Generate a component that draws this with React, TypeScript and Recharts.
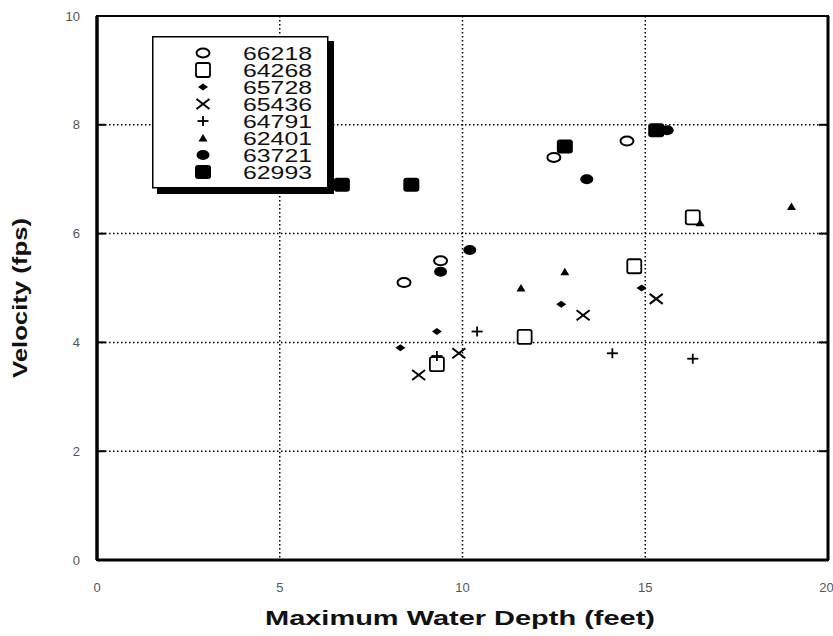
import React from 'react';
import {
  ScatterChart,
  Scatter,
  XAxis,
  YAxis,
  CartesianGrid,
  ReferenceArea,
  ReferenceLine,
  Legend,
} from 'recharts';

// axis ticks
const xTicks = [0, 5, 10, 15, 20];
const yTicks = [0, 2, 4, 6, 8, 10];
const gridY = [2, 4, 6, 8];

// station ids, in legend order
const stations = ['66218', '64268', '65728', '65436', '64791', '62401', '63721', '62993'];

// depth (ft) vs velocity (fps) per station
const s66218 = [{ x: 8.4, y: 5.1 }, { x: 9.4, y: 5.5 }, { x: 12.5, y: 7.4 }, { x: 14.5, y: 7.7 }];
const s64268 = [{ x: 9.3, y: 3.6 }, { x: 11.7, y: 4.1 }, { x: 14.7, y: 5.4 }, { x: 16.3, y: 6.3 }];
const s65728 = [{ x: 8.3, y: 3.9 }, { x: 9.3, y: 4.2 }, { x: 12.7, y: 4.7 }, { x: 14.9, y: 5.0 }];
const s65436 = [{ x: 8.8, y: 3.4 }, { x: 9.9, y: 3.8 }, { x: 13.3, y: 4.5 }, { x: 15.3, y: 4.8 }];
const s64791 = [{ x: 9.3, y: 3.75 }, { x: 10.4, y: 4.2 }, { x: 14.1, y: 3.8 }, { x: 16.3, y: 3.7 }];
const s62401 = [{ x: 11.6, y: 5.0 }, { x: 12.8, y: 5.3 }, { x: 16.5, y: 6.2 }, { x: 19.0, y: 6.5 }];
const s63721 = [{ x: 9.4, y: 5.3 }, { x: 10.2, y: 5.7 }, { x: 13.4, y: 7.0 }, { x: 15.6, y: 7.9 }];
const s62993 = [{ x: 6.7, y: 6.9 }, { x: 8.6, y: 6.9 }, { x: 12.8, y: 7.6 }, { x: 15.3, y: 7.9 }];

const FONT = '"Liberation Sans", Arial, Helvetica, sans-serif';

// marker glyphs, drawn around (cx, cy)
const drawMarker = (kind: number, cx: number, cy: number) => {
  switch (kind) {
    case 0: // open circle
      return <ellipse cx={cx} cy={cy} rx={6.5} ry={4.5} fill="#fff" stroke="#000" strokeWidth={2} />;
    case 1: // open square
      return <rect x={cx - 7} y={cy - 7} width={14} height={14} rx={2} fill="#fff" stroke="#000" strokeWidth={1.8} />;
    case 2: // small diamond
      return <polygon points={`${cx - 5},${cy} ${cx},${cy - 3.5} ${cx + 5},${cy} ${cx},${cy + 3.5}`} fill="#000" />;
    case 3: // x
      return (
        <g stroke="#000" strokeWidth={2}>
          <line x1={cx - 6.5} y1={cy - 5} x2={cx + 6.5} y2={cy + 5} />
          <line x1={cx - 6.5} y1={cy + 5} x2={cx + 6.5} y2={cy - 5} />
        </g>
      );
    case 4: // plus
      return (
        <g stroke="#000" strokeWidth={1.8}>
          <line x1={cx - 5.5} y1={cy} x2={cx + 5.5} y2={cy} />
          <line x1={cx} y1={cy - 5} x2={cx} y2={cy + 5} />
        </g>
      );
    case 5: // triangle
      return <polygon points={`${cx - 4.5},${cy + 3.5} ${cx},${cy - 4} ${cx + 4.5},${cy + 3.5}`} fill="#000" />;
    case 6: // filled circle
      return <ellipse cx={cx} cy={cy} rx={6.5} ry={5} fill="#000" />;
    default: // filled square
      return <rect x={cx - 8} y={cy - 7} width={16} height={14} rx={3} fill="#000" />;
  }
};

const shapeFor = (kind: number) => (props: any) => drawMarker(kind, props.cx, props.cy);

// boxed legend with a drop shadow on the right and bottom
const renderLegend = () => (
  <svg width={184} height={160} style={{ display: 'block' }}>
    <rect x={5} y={5} width={177} height={153} fill="#000" />
    <rect x={0.75} y={0.75} width={175} height={151} fill="#fff" stroke="#000" strokeWidth={1.5} />
    {stations.map((name, i) => {
      const cy = 17 + i * 17;
      return (
        <g key={name}>
          {drawMarker(i, 51, cy)}
          <text
            x={91}
            y={cy + 6.5}
            fontFamily={FONT}
            fontSize={18}
            fill="#111"
            textLength={69}
            lengthAdjust="spacingAndGlyphs"
          >
            {name}
          </text>
        </g>
      );
    })}
  </svg>
);

const series = [s66218, s64268, s65728, s65436, s64791, s62401, s63721, s62993];

export default function App() {
  return (
    <div style={{ position: 'absolute', left: 0, top: 0, background: '#fff' }}>
      <ScatterChart width={833} height={636} margin={{ top: 16, right: 5, bottom: 0, left: 0 }}>
        <CartesianGrid stroke="#000" strokeWidth={1.5} strokeDasharray="1.5 2.5" />
        <XAxis
          type="number"
          dataKey="x"
          domain={[0, 20]}
          ticks={xTicks}
          height={76}
          axisLine={false}
          tickLine={false}
          tickSize={0}
          tickMargin={23}
          tick={{ fill: '#555', fontSize: 13, fontFamily: FONT }}
          label={{
            content: () => (
              <text
                x={460}
                y={625}
                textAnchor="middle"
                fontFamily={FONT}
                fontWeight="bold"
                fontSize={20}
                fill="#111"
                textLength={390}
                lengthAdjust="spacingAndGlyphs"
              >
                Maximum Water Depth (feet)
              </text>
            ),
          }}
        />
        <YAxis
          type="number"
          dataKey="y"
          domain={[0, 10]}
          ticks={yTicks}
          width={97}
          axisLine={false}
          tickLine={false}
          tickSize={0}
          tickMargin={17}
          tick={{ fill: '#555', fontSize: 13, fontFamily: FONT }}
          label={{
            content: () => (
              <text
                x={0}
                y={0}
                transform="translate(27, 298) rotate(-90)"
                textAnchor="middle"
                fontFamily={FONT}
                fontWeight="bold"
                fontSize={21}
                fill="#111"
                textLength={160}
                lengthAdjust="spacingAndGlyphs"
              >
                Velocity (fps)
              </text>
            ),
          }}
        />

        {/* plot frame, heavier on left, bottom and right */}
        <ReferenceArea x1={0} x2={20} y1={0} y2={10} fill="none" stroke="#000" strokeWidth={2} />
        <ReferenceLine x={0} stroke="#000" strokeWidth={3.5} />
        <ReferenceLine x={20} stroke="#000" strokeWidth={3} />
        <ReferenceLine y={0} stroke="#000" strokeWidth={3} />
        {gridY.map((v) => (
          <ReferenceLine key={`l${v}`} segment={[{ x: 0, y: v }, { x: 0.25, y: v }]} stroke="#000" strokeWidth={2} />
        ))}
        {gridY.map((v) => (
          <ReferenceLine key={`r${v}`} segment={[{ x: 19.75, y: v }, { x: 20, y: v }]} stroke="#000" strokeWidth={2} />
        ))}

        {series.map((data, i) => (
          <Scatter
            key={stations[i]}
            name={stations[i]}
            data={data}
            shape={shapeFor(i)}
            isAnimationActive={false}
          />
        ))}

        <Legend
          layout="vertical"
          align="center"
          verticalAlign="middle"
          content={renderLegend}
          wrapperStyle={{ left: 152, top: 36, width: 184, height: 160 }}
        />
      </ScatterChart>
    </div>
  );
}
